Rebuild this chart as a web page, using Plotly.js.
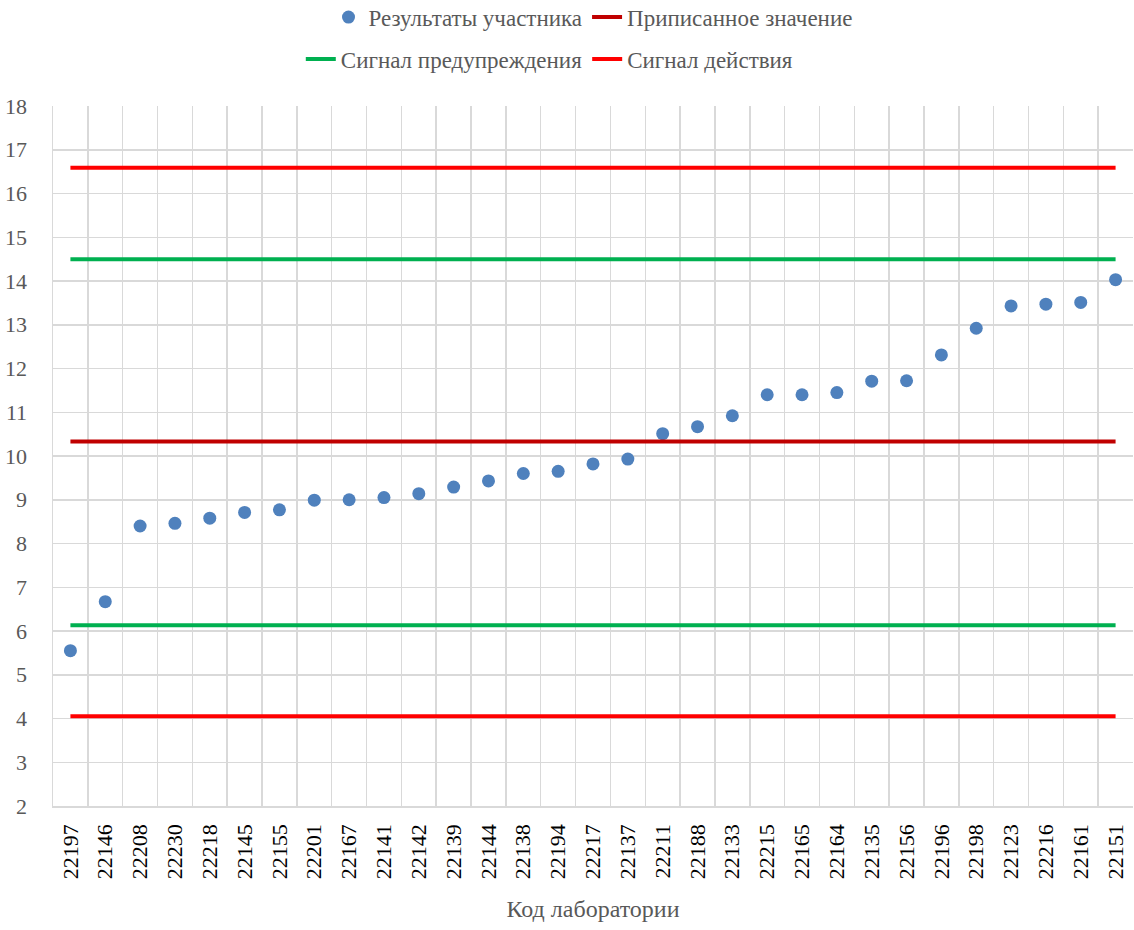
<!DOCTYPE html>
<html>
<head>
<meta charset="utf-8">
<script src="https://cdn.plot.ly/plotly-3.0.1.min.js"></script>
<style>
html,body{margin:0;padding:0;background:#fff;}
#chart{width:1134px;height:930px;}
</style>
</head>
<body>
<div id="chart"></div>
<script>
const labCodes = ["22197","22146","22208","22230","22218","22145","22155","22201","22167","22141","22142","22139","22144","22138","22194","22217","22137","22211","22188","22133","22215","22165","22164","22135","22156","22196","22198","22123","22216","22161","22151"];
const results = [5.55,6.67,8.40,8.46,8.58,8.71,8.77,8.99,9.00,9.05,9.14,9.29,9.43,9.60,9.65,9.82,9.93,10.51,10.67,10.92,11.40,11.40,11.45,11.71,11.72,12.31,12.92,13.43,13.47,13.51,14.03];
const assignedValue = 10.33;
const warningUpper = 14.50;
const warningLower = 6.13;
const actionUpper = 16.59;
const actionLower = 4.05;

const FONT = "Times New Roman";
const fill = v => labCodes.map(() => v);

const traces = [
  {x: labCodes, y: results, type: "scatter", mode: "markers", name: "Результаты участника",
   marker: {color: "#4f81bd", size: 13}, legend: "legend"},
  {x: labCodes, y: fill(assignedValue), type: "scatter", mode: "lines", name: "Приписанное значение",
   line: {color: "#c00000", width: 4}, legend: "legend"},
  {x: labCodes, y: fill(warningUpper), type: "scatter", mode: "lines", name: "Сигнал предупреждения",
   line: {color: "#00b050", width: 4}, legend: "legend2"},
  {x: labCodes, y: fill(warningLower), type: "scatter", mode: "lines", name: "Сигнал предупреждения",
   line: {color: "#00b050", width: 4}, showlegend: false},
  {x: labCodes, y: fill(actionUpper), type: "scatter", mode: "lines", name: "Сигнал действия",
   line: {color: "#ff0000", width: 4}, legend: "legend2"},
  {x: labCodes, y: fill(actionLower), type: "scatter", mode: "lines", name: "Сигнал действия",
   line: {color: "#ff0000", width: 4}, showlegend: false}
];

const layout = {
  width: 1134, height: 930,
  margin: {l: 53, r: 1, t: 106, b: 124, autoexpand: false},
  paper_bgcolor: "#fff", plot_bgcolor: "#fff",
  font: {family: FONT, size: 22, color: "#595959"},
  showlegend: true,
  legend: {orientation: "h", x: 0.5, xanchor: "center", y: 1.127, yanchor: "middle",
           font: {family: FONT, size: 23, color: "#595959"}, bgcolor: "rgba(0,0,0,0)", itemwidth: 30},
  legend2: {orientation: "h", x: 0.46, xanchor: "center", y: 1.067, yanchor: "middle",
           font: {family: FONT, size: 23, color: "#595959"}, bgcolor: "rgba(0,0,0,0)", itemwidth: 30},
  xaxis: {
    type: "category", categoryorder: "array", categoryarray: labCodes,
    range: [-0.5, labCodes.length - 0.5],
    tickson: "boundaries", showgrid: true, gridcolor: "#d9d9d9", gridwidth: 1.5,
    showline: true, linecolor: "#d9d9d9", linewidth: 1.5,
    ticks: "", tickangle: -90, tickfont: {family: FONT, size: 22, color: "#000"},
    ticklabelstandoff: 8,
    title: {text: "Код лаборатории", font: {family: FONT, size: 24, color: "#595959"}, standoff: 22},
    zeroline: false, fixedrange: true
  },
  yaxis: {
    range: [2, 18], dtick: 1, tick0: 2,
    showgrid: true, gridcolor: "#d9d9d9", gridwidth: 1.5,
    showline: true, linecolor: "#d9d9d9", linewidth: 1.5,
    ticks: "", tickfont: {family: FONT, size: 22, color: "#595959"},
    ticklabelstandoff: 20,
    zeroline: false, fixedrange: true
  }
};

Plotly.newPlot("chart", traces, layout, {displayModeBar: false, staticPlot: true});
</script>
</body>
</html>
